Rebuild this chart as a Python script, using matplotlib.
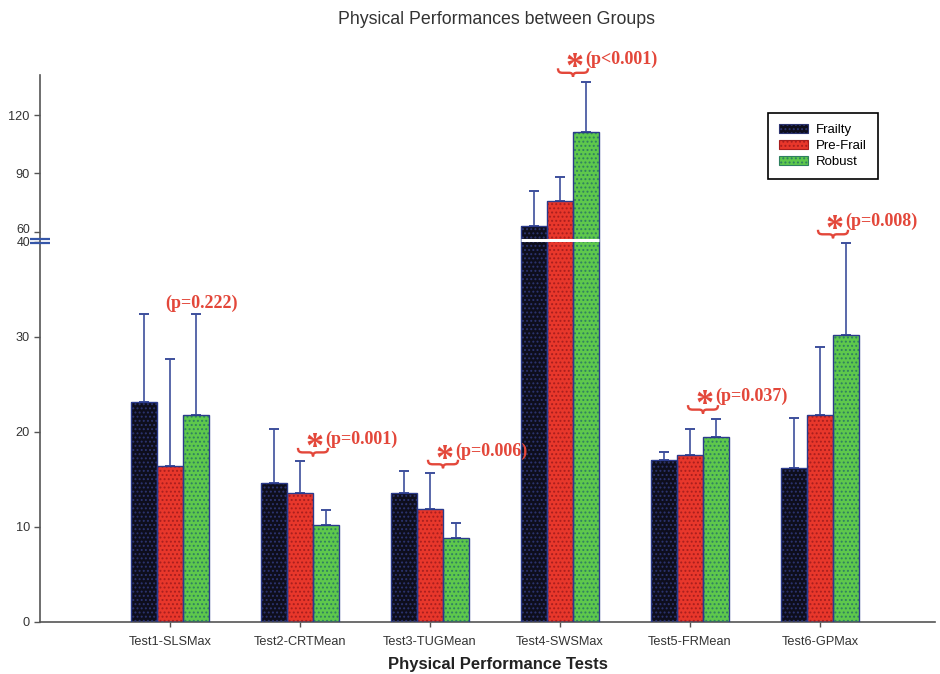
import numpy as np
import matplotlib
matplotlib.use('Agg')
import matplotlib.pyplot as plt
from matplotlib.patches import Patch, PathPatch
from matplotlib.path import Path
from matplotlib.transforms import Affine2D, ScaledTranslation

# ---------------- data ----------------
tests = ['Test1-SLSMax', 'Test2-CRTMean', 'Test3-TUGMean',
         'Test4-SWSMax', 'Test5-FRMean', 'Test6-GPMax']
groups = ['Frailty', 'Pre-Frail', 'Robust']
frailty_mean = [23.2, 14.6, 13.6, 63.0, 17.05, 16.2]
frailty_sd = [9.2, 5.7, 2.3, 18.0, 0.85, 5.3]
prefrail_mean = [16.4, 13.6, 11.9, 75.7, 17.6, 21.8]
prefrail_sd = [11.3, 3.3, 3.75, 12.5, 2.7, 7.1]
robust_mean = [21.8, 10.2, 8.85, 111.2, 19.5, 30.2]
robust_sd = [10.6, 1.6, 1.6, 25.9, 1.9, 9.65]
p_labels = ['(p=0.222)', '(p=0.001)', '(p=0.006)', '(p<0.001)', '(p=0.037)', '(p=0.008)']
significant = [False, True, True, True, True, True]
lower_ticks = [0, 10, 20, 30, 40]
upper_ticks = [60, 90, 120]

# ---------------- broken y scale ----------------
BREAK_LO, BREAK_HI = 40.0, 60.0
GAP = 1.06
UPPER_RATIO = 0.2047


def fwd(y):
    y = np.asarray(y, dtype=float)
    return np.where(y <= BREAK_LO, y,
                    np.where(y < BREAK_HI,
                             BREAK_LO + (y - BREAK_LO) * GAP / (BREAK_HI - BREAK_LO),
                             BREAK_LO + GAP + (y - BREAK_HI) * UPPER_RATIO))


def inv(t):
    t = np.asarray(t, dtype=float)
    return np.where(t <= BREAK_LO, t,
                    np.where(t < BREAK_LO + GAP,
                             BREAK_LO + (t - BREAK_LO) * (BREAK_HI - BREAK_LO) / GAP,
                             BREAK_HI + (t - BREAK_LO - GAP) / UPPER_RATIO))


plt.rcParams['font.family'] = ['Liberation Sans', 'DejaVu Sans']
plt.rcParams['hatch.linewidth'] = 0.9

fig = plt.figure(figsize=(9.4, 6.74), dpi=100)
ax = fig.add_axes([40 / 940, 52 / 674, 895 / 940, 547 / 674])
ax.set_yscale('function', functions=(fwd, inv))

x = np.arange(len(tests))
width = 0.2
series = [
    (frailty_mean, frailty_sd, '#0e0e1c', '#2c3470'),
    (prefrail_mean, prefrail_sd, '#e8372b', '#a81e1e'),
    (robust_mean, robust_sd, '#5ec84c', '#2f8060'),
]
offsets = [-width, 0.0, width]
edge_col = '#2b3b8c'
err_col = '#3d4f9c'

for (m, s, fc, dc), off in zip(series, offsets):
    xs = x + off
    ax.bar(xs, m, width=width, color=fc, edgecolor='none', linewidth=0, zorder=2)
    ax.bar(xs, m, width=width, fill=False, hatch='....', edgecolor=dc, linewidth=0, zorder=3)
    ax.bar(xs, m, width=width, fill=False, edgecolor=edge_col, linewidth=1.0, zorder=4)
    ax.errorbar(xs, m, yerr=[np.zeros(len(m)), s], fmt='none', ecolor=err_col,
                elinewidth=1.2, capsize=3.6, capthick=1.4, zorder=1)

ax.set_xlim(-1.0, (935 - 170) / 130)
ax.set_ylim(0, 140.6)
ax.set_xticks(x)
ax.set_xticklabels(tests, fontsize=9.2, color='#333333')
all_ticks = lower_ticks + upper_ticks
ax.set_yticks(all_ticks)
# the two labels at the break are drawn separately so that they do not collide
ax.set_yticklabels(['' if v in (BREAK_LO, BREAK_HI) else str(v) for v in all_ticks],
                   fontsize=9.2, color='#333333')
ax.tick_params(axis='x', length=3.6, width=1.0, pad=6.5, color='#555555')
ax.tick_params(axis='y', length=4.3, width=1.0, pad=3, color='#555555')
ax.minorticks_off()
for side in ['top', 'right']:
    ax.spines[side].set_visible(False)
for side in ['left', 'bottom']:
    ax.spines[side].set_color('#555555')
    ax.spines[side].set_linewidth(1.2)

ax.annotate(str(int(BREAK_HI)), xy=(-1.0, BREAK_HI), xytext=(-10, 1.5),
            textcoords='offset pixels', ha='right', va='center', fontsize=8.9,
            color='#333333', annotation_clip=False)
ax.annotate(str(int(BREAK_LO)), xy=(-1.0, BREAK_LO), xytext=(-10, -1.5),
            textcoords='offset pixels', ha='right', va='center', fontsize=8.9,
            color='#333333', annotation_clip=False)


def pix_patch(verts, codes, anchor, offset=(0, 0), **kw):
    path = Path(np.asarray(verts, dtype=float) + np.asarray(offset, dtype=float), codes)
    tr = Affine2D() + ScaledTranslation(anchor[0], anchor[1], ax.transData)
    p = PathPatch(path, transform=tr, clip_on=False, fill=False, **kw)
    ax.add_patch(p)
    return p


# break: white line across the bars of the broken group, and axis marks
ax.plot([3 - 0.3, 3 + 0.3], [BREAK_LO, BREAK_LO], color='white', lw=2.2, zorder=6,
        solid_capstyle='butt',
        transform=ax.transData + ScaledTranslation(0, 1.8 / 100, fig.dpi_scale_trans))
ax.plot([-1.0, -1.0], [BREAK_LO, BREAK_LO], color='white', lw=3, zorder=6, clip_on=False,
        transform=ax.transData + ScaledTranslation(0, 1.0 / 100, fig.dpi_scale_trans))
mark_codes = [Path.MOVETO, Path.LINETO, Path.MOVETO, Path.LINETO]
pix_patch([(-10, 3), (10, 3), (-10, -1), (10, -1)], mark_codes, (-1.0, BREAK_LO),
          edgecolor='#3556a8', linewidth=1.6, zorder=7)

# significance braces and labels
red = '#e3473a'
brace_codes = [Path.MOVETO, Path.CURVE4, Path.CURVE4, Path.CURVE4, Path.LINETO,
               Path.CURVE4, Path.CURVE4, Path.CURVE4,
               Path.CURVE4, Path.CURVE4, Path.CURVE4, Path.LINETO,
               Path.CURVE4, Path.CURVE4, Path.CURVE4]
brace_verts = [(-15, 4.5), (-15, 0.5), (-13, 0), (-10, 0), (-4, 0),
               (-1.5, 0), (0, -1), (0, -4),
               (0, -1), (1.5, 0), (4, 0), (10, 0),
               (13, 0), (15, 0.5), (15, 4.5)]
serif = ['Liberation Serif', 'DejaVu Serif']
for i in range(len(tests)):
    top = max(prefrail_mean[i] + prefrail_sd[i], robust_mean[i] + robust_sd[i])
    anchor = (i + 0.1, top)
    if significant[i]:
        pix_patch(brace_verts, brace_codes, anchor, offset=(0, 9),
                  edgecolor=red, linewidth=1.7, zorder=8)
        ax.annotate('*', xy=anchor, xytext=(2, 4.5), textcoords='offset pixels',
                    ha='center', va='baseline', fontsize=26, fontweight='bold',
                    family=serif, color=red, annotation_clip=False)
        ax.annotate(p_labels[i], xy=anchor, xytext=(12, 22), textcoords='offset pixels',
                    ha='left', va='center', fontsize=13, fontweight='bold',
                    family=serif, color=red, annotation_clip=False)
    else:
        ax.annotate(p_labels[i], xy=anchor, xytext=(18.5, 11), textcoords='offset pixels',
                    ha='center', va='center', fontsize=13, fontweight='bold',
                    family=serif, color=red, annotation_clip=False)

# legend
handles = [Patch(facecolor=fc, edgecolor=dc, hatch='....', linewidth=0.8)
           for (_, _, fc, dc) in series]
leg = fig.legend(handles, groups, loc='upper left',
                 bbox_to_anchor=(768 / 940, 1 - 113 / 674), frameon=True, fancybox=False,
                 edgecolor='black', framealpha=1, fontsize=9.5, handlelength=2.2,
                 handleheight=0.6, handletextpad=0.6, labelspacing=0.3, borderpad=0.85,
                 borderaxespad=0)
leg.get_frame().set_linewidth(1.2)

fig.text(496 / 940, 1 - 20 / 674, 'Physical Performances between Groups',
         ha='center', va='center', fontsize=12.8, color='#333333')
fig.text(498 / 940, 1 - 664 / 674, 'Physical Performance Tests',
         ha='center', va='center', fontsize=12, fontweight='bold', color='#222222')

fig.savefig('out.png', dpi=100)
